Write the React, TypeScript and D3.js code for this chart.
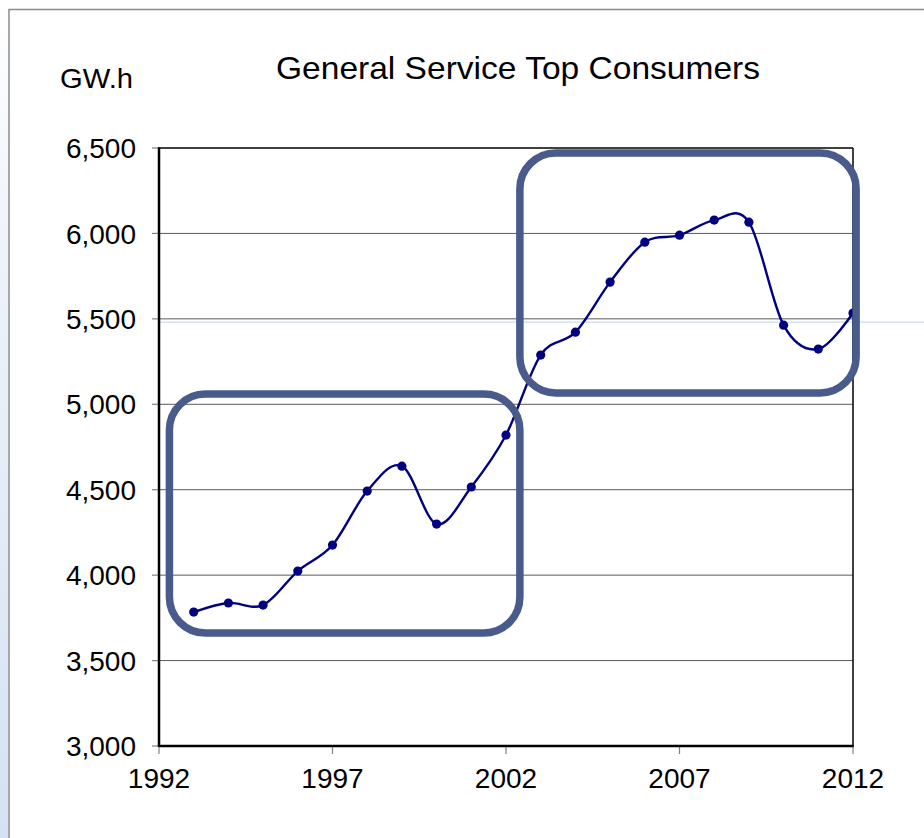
import React from "react";
import * as d3 from "d3";

const years = [1993, 1994, 1995, 1996, 1997, 1998, 1999, 2000, 2001, 2002, 2003, 2004, 2005, 2006, 2007, 2008, 2009, 2010, 2011, 2012];
const values = [3784, 3837, 3825, 4024, 4176, 4492, 4638, 4299, 4516, 4820, 5288, 5422, 5715, 5949, 5990, 6078, 6066, 5463, 5323, 5534];
const yTicks = [3000, 3500, 4000, 4500, 5000, 5500, 6000, 6500];
const xTicks = [1992, 1997, 2002, 2007, 2012];
// highlight boxes in data units: [x0, x1, yTop, yBottom]
const boxes = [
  [1992.3, 2002.4, 5060, 3661],
  [2002.4, 2012.09, 6471, 5066],
];

const W = 924;
const H = 838;
const FONT = "'Liberation Sans', Arial, sans-serif";

export default function App() {
  const x = d3.scaleLinear().domain([1992, 2012]).range([159, 853]);
  const y = d3.scaleLinear().domain([3000, 6500]).range([746, 148]);
  const pts: [number, number][] = years.map((yr, i) => [x(yr), y(values[i])]);
  const line = d3.line().curve(d3.curveCardinal.tension(0))(pts) || "";
  const fmt = d3.format(",");
  const [x0, x1] = x.range();
  const [yb, yt] = y.range();

  return (
    <svg width={W} height={H} style={{ position: "absolute", left: 0, top: 0, background: "#fff" }}>
      <defs>
        <linearGradient id="strip" x1="0" y1="0" x2="0" y2="1">
          <stop offset="0" stopColor="#ffffff" />
          <stop offset="0.3" stopColor="#eef3fa" />
          <stop offset="1" stopColor="#d5e2f3" />
        </linearGradient>
      </defs>
      <rect x={0} y={0} width={8} height={H} fill="url(#strip)" />
      <rect x={9} y={9.5} width={W + 20} height={H + 20} fill="#fff" stroke="#8c8c8c" strokeWidth={1.5} />

      <text x={276} y={79} textLength={484} lengthAdjust="spacingAndGlyphs" fontFamily={FONT} fontSize={31.5} fill="#000">
        General Service Top Consumers
      </text>
      <text x={60} y={88} textLength={73} lengthAdjust="spacingAndGlyphs" fontFamily={FONT} fontSize={28.5} fill="#000">GW.h</text>

      {/* gridlines */}
      {yTicks.slice(1, -1).map((t) => (
        <line key={t} x1={x0} x2={x1} y1={y(t)} y2={y(t)} stroke="#5a5a5a" strokeWidth={1} />
      ))}
      <line x1={x0} x2={W} y1={y(5481)} y2={y(5481)} stroke="#c9dcf2" strokeWidth={1.2} />

      {/* ticks */}
      {yTicks.map((t) => (
        <g key={t}>
          <line x1={152} x2={x0} y1={y(t)} y2={y(t)} stroke="#808080" strokeWidth={1.2} />
          <text x={136} y={y(t)} dy="0.36em" textAnchor="end" fontFamily={FONT} fontSize={28} fill="#000">
            {fmt(t)}
          </text>
        </g>
      ))}
      {xTicks.map((t) => (
        <g key={t}>
          <line x1={x(t)} x2={x(t)} y1={yb} y2={yb + 8} stroke="#808080" strokeWidth={1.2} />
          <text x={x(t)} y={788} textAnchor="middle" fontFamily={FONT} fontSize={28} fill="#000">
            {t}
          </text>
        </g>
      ))}

      {/* plot frame */}
      <line x1={x0} x2={x1} y1={yt} y2={yt} stroke="#000" strokeWidth={1.5} />
      <line x1={x1} x2={x1} y1={yt} y2={yb} stroke="#000" strokeWidth={1.5} />
      <line x1={x0} x2={x0} y1={yt - 0.75} y2={yb + 1} stroke="#000" strokeWidth={2.5} />
      <line x1={x0} x2={x1 + 0.75} y1={yb} y2={yb} stroke="#000" strokeWidth={2.5} />

      {/* series */}
      <path d={line} fill="none" stroke="#000080" strokeWidth={2.4} />
      {pts.map(([px, py], i) => (
        <circle key={i} cx={px} cy={py} r={4.6} fill="#000080" />
      ))}

      {/* highlight boxes */}
      {boxes.map((b, i) => {
        const bx = x(b[0]);
        const bw = x(b[1]) - bx;
        const by = y(b[2]);
        const bh = y(b[3]) - by;
        return (
          <rect key={i} x={bx} y={by} width={bw} height={bh} rx={36} ry={36} fill="none" stroke="#485b8b" strokeWidth={7.5} />
        );
      })}
    </svg>
  );
}
